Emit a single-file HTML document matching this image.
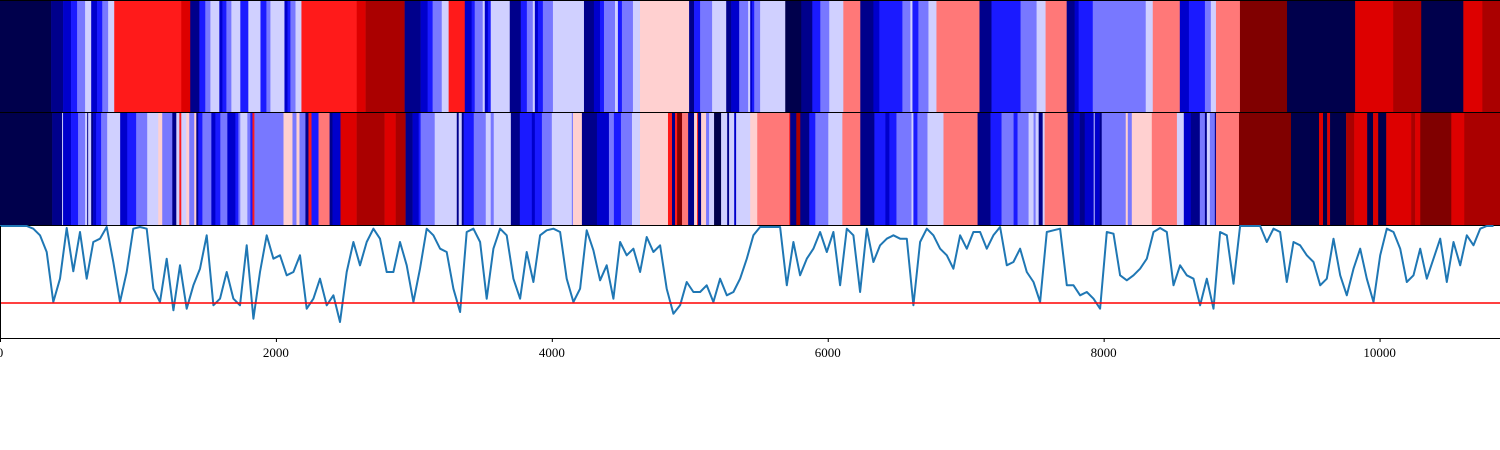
<!DOCTYPE html>
<html><head><meta charset="utf-8"><style>
html,body{margin:0;padding:0;background:#fff;width:1500px;height:450px;overflow:hidden}
svg{display:block}
text{font-family:"Liberation Serif",serif;font-size:13px;fill:#000}
</style></head><body>
<svg id="chart" width="1500" height="450" xmlns="http://www.w3.org/2000/svg"></svg>
<script>
const palette = ["#00004c","#00008b","#0000cc","#1a1aff","#7878ff","#d0d0ff","#ffd0d0","#ff7878","#ff1a1a","#dd0000","#aa0000","#800000"];
const xMax = 10873;
const topStart = [0,370,457,515,559,617,661,704,741,784,828,1314,1379,1445,1488,1525,1590,1612,1641,1677,1742,1800,1888,1931,1960,2062,2084,2105,2142,2185,2585,2650,2933,3049,3100,3136,3202,3252,3369,3419,3441,3499,3514,3536,3557,3695,3775,3819,3862,3877,3899,3935,4008,4233,4305,4349,4378,4458,4479,4508,4588,4639,4995,5031,5075,5162,5264,5300,5358,5423,5438,5452,5467,5510,5692,5808,5888,5946,6011,6113,6236,6331,6374,6541,6599,6614,6657,6730,6788,7100,7187,7398,7514,7579,7732,7790,7819,7921,8305,8356,8552,8618,8734,8777,8814,8988,9329,9823,10099,10302,10607,10745];
const topLevel = [0,1,2,3,4,5,2,3,4,5,8,9,1,3,4,5,2,3,4,5,3,5,3,4,5,2,3,4,5,8,9,10,1,2,3,4,5,8,2,3,4,5,2,3,5,1,3,4,5,2,3,4,5,1,2,3,4,5,3,4,5,6,1,3,4,5,1,2,4,5,2,3,4,5,0,1,3,4,5,7,1,2,3,4,5,3,4,5,7,1,3,4,5,7,1,2,3,4,5,7,2,3,4,5,7,11,0,9,10,0,9,10];
const midStart = [0,378,450,457,515,566,617,632,639,661,675,697,733,777,871,922,987,1067,1147,1176,1249,1278,1300,1314,1350,1372,1408,1423,1437,1467,1532,1561,1597,1648,1706,1728,1742,1793,1815,1830,1844,2055,2120,2149,2171,2214,2236,2258,2309,2389,2410,2468,2585,2788,2868,2940,2991,3035,3049,3151,3311,3325,3347,3361,3434,3521,3557,3579,3703,3768,3855,3877,3928,4000,4145,4153,4218,4327,4414,4450,4501,4581,4639,4842,4871,4893,4908,4944,4988,5031,5053,5060,5082,5118,5140,5176,5227,5271,5285,5322,5336,5438,5489,5721,5728,5772,5801,5866,5910,6004,6106,6236,6338,6418,6447,6498,6607,6621,6650,6723,6839,7086,7180,7260,7347,7376,7456,7492,7507,7529,7558,7572,7739,7783,7826,7863,7928,7935,7971,7986,8160,8175,8204,8349,8531,8581,8632,8697,8734,8748,8770,8806,8814,8981,9358,9561,9590,9620,9641,9757,9816,9910,9953,9990,10048,10229,10258,10295,10520,10614];
const midLevel = [0,1,5,2,3,4,5,1,5,1,2,3,4,5,2,3,4,5,6,4,1,5,8,5,6,4,6,1,3,4,2,3,4,2,3,4,5,4,3,8,4,6,4,6,4,1,8,3,7,1,2,9,10,9,10,1,2,3,4,5,1,5,1,3,4,5,4,5,1,3,2,3,4,5,4,6,1,2,4,3,4,5,6,8,1,8,11,7,1,6,8,1,6,4,5,0,5,1,5,2,5,6,7,8,1,10,1,3,4,5,7,1,3,2,3,4,5,3,4,5,7,1,3,4,3,4,5,4,5,1,5,7,1,2,1,2,5,2,1,4,6,4,6,7,5,2,1,4,1,5,4,1,7,11,0,9,0,9,0,10,9,0,9,0,9,10,9,11,9,10];
const lineStep = 48.33;
const lineVals = [338,338,338,338,336,328,308,258,108,178,330,200,318,178,288,298,333,228,108,198,328,333,328,148,108,238,83,218,88,158,208,308,98,118,198,118,98,278,58,198,308,238,248,188,198,248,88,118,178,98,128,48,198,288,218,288,328,298,198,198,288,218,108,208,328,308,268,258,148,78,318,328,288,118,268,
328,308,178,118,258,168,308,323,328,318,178,108,148,323,263,173,218,118,288,248,268,198,303,258,278,148,73,98,168,138,138,158,108,178,128,138,178,238,308,333,333,333,333,158,288,188,238,268,318,258,318,158,328,308,138,328,228,278,298,308,298,298,98,288,328,308,268,248,208,308,268,318,318,268,308,
333,218,228,268,198,168,108,318,323,328,158,158,128,138,118,88,318,313,188,173,188,208,238,318,330,318,158,218,188,178,98,178,88,318,308,163,338,338,338,338,288,328,318,168,288,278,248,228,158,178,298,188,128,208,268,178,108,248,328,318,268,168,188,268,178,238,298,168,288,218,308,278,328,338,338];
const threshold = 105;
const xTicks = [0,2000,4000,6000,8000,10000];
const tickLabels = ["0","2000","4000","6000","8000","10000"];

const NS="http://www.w3.org/2000/svg";
const svg=document.getElementById('chart');
const X=v=>v/xMax*1500;
const Y=v=>338-v/3;
function mk(t,a){const e=document.createElementNS(NS,t);for(const k in a)e.setAttribute(k,a[k]);svg.appendChild(e);return e;}
function band(starts,levels,y0,h,name){
  for(let i=0;i<starts.length;i++){
    const x0=X(starts[i]), x1=i+1<starts.length?X(starts[i+1]):1500;
    const r=mk('rect',{x:x0,y:y0,width:Math.max(0,x1-x0)+0.3,height:h,fill:palette[levels[i]]});
    
    
  }
}
band(topStart,topLevel,1,111,'top-band');
band(midStart,midLevel,113,112,'middle-band');
[0.5,112.5,225.5].forEach(y=>{const l=mk('line',{x1:0,x2:1500,y1:y,y2:y,stroke:'#000','stroke-width':1});

});
let d='';
lineVals.forEach((v,i)=>{d+=(i?'L':'M')+X(i*lineStep).toFixed(1)+','+Math.max(226,Y(v)).toFixed(1);});
const p=mk('path',{d:d,fill:'none',stroke:'#1f77b4','stroke-width':2,'stroke-linejoin':'round'});


const th=mk('line',{x1:0,x2:1500,y1:Y(threshold),y2:Y(threshold),stroke:'#ff0000','stroke-width':1.5});


const ax=mk('line',{x1:0,x2:1500,y1:338.5,y2:338.5,stroke:'#000','stroke-width':1});


const ay=mk('line',{x1:0.5,x2:0.5,y1:226,y2:338,stroke:'#000','stroke-width':1});


xTicks.forEach((t,i)=>{
  const tk=mk('line',{x1:X(t)+0.5,x2:X(t)+0.5,y1:338,y2:342,stroke:'#000','stroke-width':1});
  
  
  const tx=mk('text',{x:X(t),y:357,'text-anchor':'middle'});
  tx.textContent=tickLabels[i];
  
  
});
</script>
</body></html>
